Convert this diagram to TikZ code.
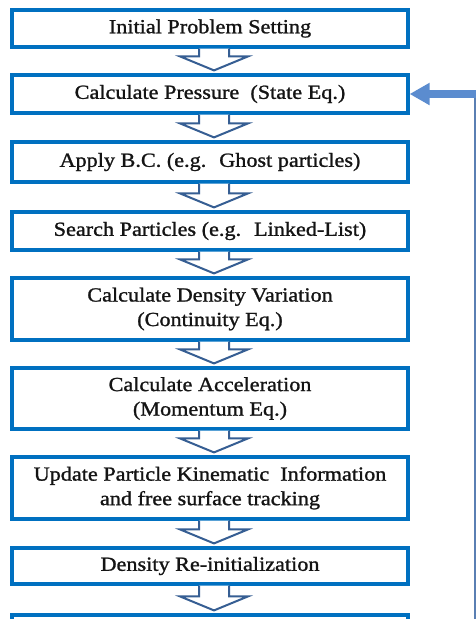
\documentclass[tikz,border=0pt]{standalone}
\usepackage{fontspec}
\setmainfont{Liberation Serif}[FakeStretch=1.11,FakeBold=1.2]
\usetikzlibrary{calc,arrows.meta}
\definecolor{boxblue}{HTML}{0070C0}
\definecolor{arrowblue}{HTML}{365E93}
\definecolor{loopblue}{HTML}{5B8CCF}
\definecolor{loopline}{HTML}{5A7FB3}
\tikzset{
  box/.style={draw=boxblue, line width=3.2pt, fill=white, minimum width=396pt,
    align=center, inner sep=0pt, text=black!92,
    font=\fontsize{20}{24.5}\selectfont},
  blockarr/.style={draw=arrowblue, line width=2pt, fill=white, line join=miter},
}
\newcommand\blockarrow[2]{%
  \draw[blockarr] let \p1=(#1.south), \p2=(#2.north) in
    (\x1-11pt,\y1) -- (\x1-11pt,\y2+17pt) -- (\x1-30pt,\y2+17pt) --
    (\x1+4pt,\y2+3pt) -- (\x1+38pt,\y2+17pt) -- (\x1+19pt,\y2+17pt) --
    (\x1+19pt,\y1);}
\begin{document}
\begin{tikzpicture}[x=1pt,y=-1pt]
\clip (0,0) rectangle (476,619);
\fill[white] (0,0) rectangle (476,619);
\node[box, minimum height=37pt] (b1) at (210,28.5) {Initial Problem Setting};
\node[box, minimum height=38pt] (b2) at (210,94) {Calculate Pressure \ (State Eq.)};
\node[box, minimum height=40pt] (b3) at (210,162) {Apply B.C. (e.g. \ Ghost particles)};
\node[box, minimum height=38pt] (b4) at (210,231) {Search Particles (e.g. \ Linked-List)};
\node[box, minimum height=62pt] (b5) at (210,309) {Calculate Density Variation\\(Continuity Eq.)};
\node[box, minimum height=61pt] (b6) at (210,398.5) {Calculate Acceleration\\(Momentum Eq.)};
\node[box, minimum height=62pt] (b7) at (210,488) {Update Particle Kinematic \ Information\\and free surface tracking};
\node[box, minimum height=36pt] (b8) at (210,566) {Density Re-initialization};
\node[box, minimum height=36pt] (b9) at (210,633) {};
\blockarrow{b1}{b2}
\blockarrow{b2}{b3}
\blockarrow{b3}{b4}
\blockarrow{b4}{b5}
\blockarrow{b5}{b6}
\blockarrow{b6}{b7}
\blockarrow{b7}{b8}
\blockarrow{b8}{b9}
\coordinate (fb) at (474.5,640);
\coordinate (corner) at (fb |- b2.east);
\draw[loopline, line width=2pt] (fb) -- ([yshift=4pt]corner);
\draw[loopblue, line width=7.5pt, -{Triangle[length=20pt,width=21pt]}] ([xshift=1pt]corner) -- (b2.east);
\end{tikzpicture}
\end{document}
